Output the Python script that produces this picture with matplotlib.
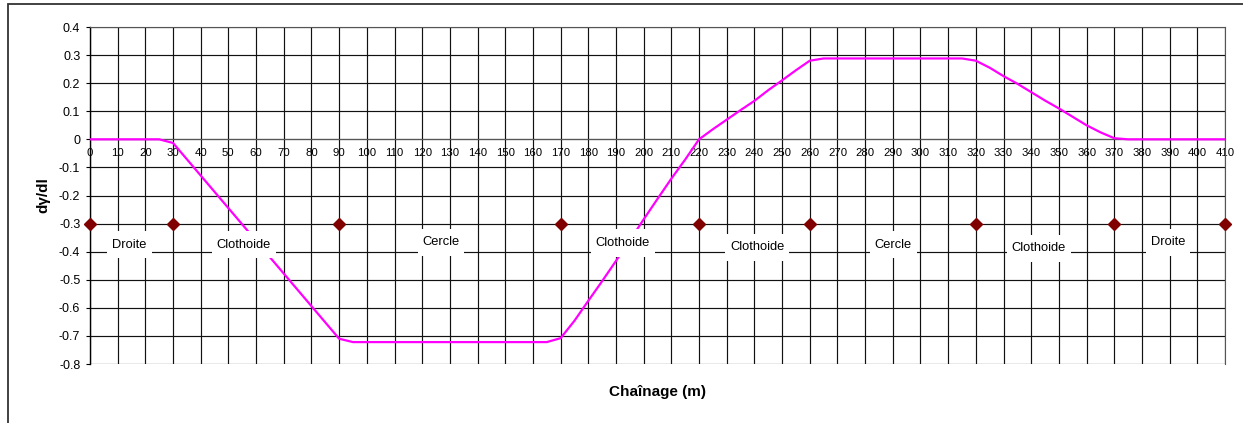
import matplotlib.pyplot as plt
from matplotlib.patches import Rectangle
from matplotlib.path import Path

plt.rcParams["font.family"] = ["Liberation Sans", "DejaVu Sans"]

# chainage (m) and curvature rate along the alignment
chainage = [0, 5, 10, 15, 20, 25, 30, 35, 40, 45, 50, 55, 60, 65, 70, 75, 80,
            85, 90, 95, 100, 105, 110, 115, 120, 125, 130, 135, 140, 145, 150,
            155, 160, 165, 170, 175, 180, 185, 190, 195, 200, 205, 210, 215,
            220, 225, 230, 235, 240, 245, 250, 255, 260, 265, 270, 275, 280,
            285, 290, 295, 300, 305, 310, 315, 320, 325, 330, 335, 340, 345,
            350, 355, 360, 365, 370, 375, 380, 385, 390, 395, 400, 405, 410]
dgamma = [0, 0, 0, 0, 0, 0, -0.013, -0.071, -0.129, -0.187, -0.245, -0.303,
          -0.361, -0.420, -0.478, -0.536, -0.594, -0.652, -0.710,
          -0.722, -0.722, -0.722, -0.722, -0.722, -0.722, -0.722, -0.722,
          -0.722, -0.722, -0.722, -0.722, -0.722, -0.722, -0.722,
          -0.708, -0.646, -0.575, -0.505, -0.433, -0.360, -0.285, -0.212,
          -0.140, -0.072, 0.000,
          0.036, 0.070, 0.104, 0.137, 0.175, 0.210, 0.246, 0.280,
          0.288, 0.288, 0.288, 0.288, 0.288, 0.288, 0.288, 0.288, 0.288,
          0.288, 0.288,
          0.280, 0.255, 0.225, 0.198, 0.168, 0.138, 0.110, 0.080, 0.050,
          0.025, 0.004,
          0, 0, 0, 0, 0, 0, 0, 0]

# tangent points between elements
break_x = [0, 30, 90, 170, 220, 260, 320, 370, 410]
break_y = [-0.3, -0.3, -0.3, -0.3, -0.3, -0.3, -0.3, -0.3, -0.3]

# element names and where they sit
element_names = ["Droite", "Clothoide", "Cercle", "Clothoide", "Clothoide",
                 "Cercle", "Clothoide", "Droite"]
element_x = [14.3, 55.6, 126.8, 192.4, 241.0, 290.2, 342.7, 389.3]
element_y = [-0.375, -0.375, -0.367, -0.370, -0.385, -0.375, -0.388, -0.367]

x_ticks = list(range(0, 420, 10))
y_ticks = [-0.8, -0.7, -0.6, -0.5, -0.4, -0.3, -0.2, -0.1, 0, 0.1, 0.2, 0.3, 0.4]
y_tick_labels = ["-0.8", "-0.7", "-0.6", "-0.5", "-0.4", "-0.3", "-0.2",
                 "-0.1", "0", "0.1", "0.2", "0.3", "0.4"]


def label_box(x0, y0, width, height, mutation_size):
    # white box, wider vertically than horizontally
    px, py = 0.38 * mutation_size, 0.6 * mutation_size
    verts = [(x0 - px, y0 - py), (x0 + width + px, y0 - py),
             (x0 + width + px, y0 + height + py), (x0 - px, y0 + height + py),
             (x0 - px, y0 - py)]
    return Path(verts, closed=True)


fig = plt.figure(figsize=(12.43, 4.23), dpi=100)
ax = fig.add_axes([90 / 1243, 1 - 364 / 423, 1135 / 1243, 337 / 423])

ax.plot(chainage, dgamma, color="#ff00ff", lw=1.6, zorder=3)
ax.plot(break_x, break_y, ls="none", marker="D", ms=6.2,
        color="#800000", zorder=4, clip_on=False)

for name, x, y in zip(element_names, element_x, element_y):
    ax.text(x, y, name, ha="center", va="center", fontsize=9.3, zorder=5,
            bbox=dict(boxstyle=label_box, facecolor="white", edgecolor="none"))

ax.set_xlim(0, 410)
ax.set_ylim(-0.8, 0.4)
ax.set_xticks(x_ticks)
ax.set_yticks(y_ticks)
ax.set_yticklabels(y_tick_labels)

ax.set_axisbelow(True)
ax.grid(True, color="#111111", lw=0.85)

ax.spines["bottom"].set_position(("data", 0))
for side in ["bottom", "top", "right"]:
    ax.spines[side].set_color("#555555")
    ax.spines[side].set_linewidth(0.8)
ax.spines["left"].set_color("black")
ax.spines["left"].set_linewidth(1.0)

ax.tick_params(axis="x", length=0, pad=6.0, labelsize=8.2)
ax.tick_params(axis="y", length=3, width=0.8, pad=4, labelsize=9)

ax.set_ylabel("d\u03b3/dl", fontsize=11, fontweight="bold")
ax.yaxis.set_label_coords(-0.035, 0.5)
ax.set_xlabel("Chaînage (m)", fontsize=11, fontweight="bold", va="top")
ax.xaxis.set_label_coords(0.5, -0.063)

# outer frame around the chart area
fig.add_artist(Rectangle((8 / 1243, -0.2), 1.5, 1.2 - 4 / 423,
                         transform=fig.transFigure, fill=False,
                         edgecolor="#333333", lw=1.3))

fig.savefig("out.png", dpi=100)
